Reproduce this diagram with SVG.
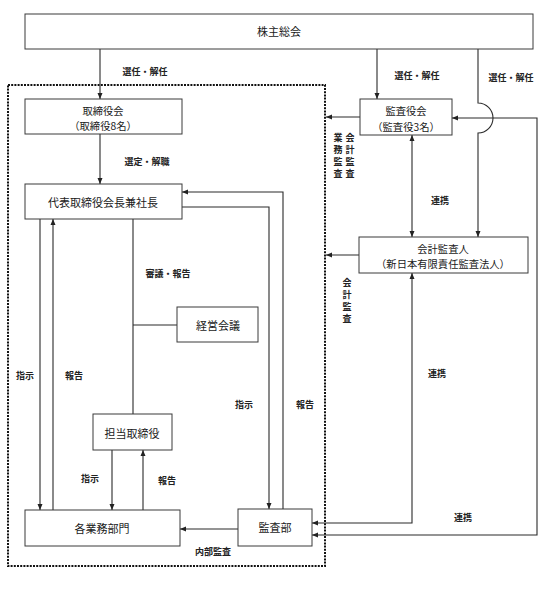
<svg xmlns="http://www.w3.org/2000/svg" width="554" height="589" viewBox="0 0 554 589">
<style>
.box{fill:#fff;stroke:#3a3a3a;stroke-width:1}
.nt{font-family:"Noto Sans CJK JP","Noto Sans CJK SC",sans-serif;font-size:11px;fill:#1a1a1a;text-anchor:middle;dominant-baseline:central}
.n2{font-size:10.3px}
.lb{font-family:"Noto Sans CJK JP","Noto Sans CJK SC",sans-serif;font-size:9px;font-weight:bold;fill:#222;text-anchor:middle;dominant-baseline:central}
.ln{fill:none;stroke:#2a2a2a;stroke-width:1.1}
.dot{fill:none;stroke:#111;stroke-width:2;stroke-dasharray:2 1.2}
</style>
<defs>
<marker id="ah" viewBox="0 0 6 6" refX="6" refY="3" markerWidth="6" markerHeight="6" markerUnits="userSpaceOnUse" orient="auto-start-reverse">
<path d="M0,0.5 L6,3 L0,5.5 z" fill="#222"/>
</marker>
</defs>
<rect width="554" height="589" fill="#fff"/>
<rect class="dot" x="8" y="85" width="317" height="481"/>
<g id="connectors">
<line class="ln" x1="100" y1="49" x2="100" y2="99" marker-end="url(#ah)"/>
<line class="ln" x1="377" y1="49" x2="377" y2="99" marker-end="url(#ah)"/>
<path class="ln" d="M478,49 V103 A15,15 0 0 1 478,133 V237" marker-end="url(#ah)"/>
<line class="ln" x1="100" y1="134" x2="100" y2="184" marker-end="url(#ah)"/>
<line class="ln" x1="40" y1="219" x2="40" y2="510" marker-end="url(#ah)"/>
<line class="ln" x1="53" y1="510" x2="53" y2="219" marker-end="url(#ah)"/>
<line class="ln" x1="133" y1="219" x2="133" y2="414"/>
<line class="ln" x1="133" y1="325" x2="177" y2="325"/>
<line class="ln" x1="112" y1="450" x2="112" y2="510" marker-end="url(#ah)"/>
<line class="ln" x1="143" y1="510" x2="143" y2="450" marker-end="url(#ah)"/>
<path class="ln" d="M182,207 H269 V509" marker-end="url(#ah)"/>
<path class="ln" d="M283,509 V192 H182" marker-end="url(#ah)"/>
<line class="ln" x1="238" y1="529" x2="180" y2="529" marker-end="url(#ah)"/>
<line class="ln" x1="360" y1="117" x2="326" y2="117" marker-end="url(#ah)"/>
<line class="ln" x1="359" y1="255" x2="326" y2="255" marker-end="url(#ah)"/>
<line class="ln" x1="412" y1="135" x2="412" y2="237" marker-start="url(#ah)" marker-end="url(#ah)"/>
<path class="ln" d="M412,273 V523 H312" marker-start="url(#ah)" marker-end="url(#ah)"/>
<path class="ln" d="M452,118 H537 V535 H312" marker-start="url(#ah)" marker-end="url(#ah)"/>
</g>
<g id="labels">
<text class="lb" x="145" y="71">選任・解任</text>
<text class="lb" x="417" y="75">選任・解任</text>
<text class="lb" x="511" y="77">選任・解任</text>
<text class="lb" x="147" y="161">選定・解職</text>
<text class="lb" x="168" y="273">審議・報告</text>
<text class="lb" x="25" y="375">指示</text>
<text class="lb" x="74" y="375">報告</text>
<text class="lb" x="244" y="404">指示</text>
<text class="lb" x="305" y="404">報告</text>
<text class="lb" x="90" y="478">指示</text>
<text class="lb" x="167" y="480">報告</text>
<text class="lb" x="213" y="551">内部監査</text>
<text class="lb" x="440" y="200">連携</text>
<text class="lb" x="437" y="373">連携</text>
<text class="lb" x="463" y="517">連携</text>
<text class="lb"><tspan x="338" y="137">業</tspan><tspan x="338" y="149">務</tspan><tspan x="338" y="161">監</tspan><tspan x="338" y="173">査</tspan></text>
<text class="lb"><tspan x="350" y="137">会</tspan><tspan x="350" y="149">計</tspan><tspan x="350" y="161">監</tspan><tspan x="350" y="173">査</tspan></text>
<text class="lb"><tspan x="347" y="282">会</tspan><tspan x="347" y="294">計</tspan><tspan x="347" y="306">監</tspan><tspan x="347" y="318">査</tspan></text>
</g>
<g id="n-kabunushi"><rect class="box" x="25" y="14" width="508" height="35"/><text class="nt" x="279" y="31">株主総会</text></g>
<g id="n-torishimariyakukai"><rect class="box" x="25" y="99" width="157" height="35"/><text class="nt n2" x="103" y="110">取締役会</text><text class="nt n2" x="103" y="125.5">（取締役8名）</text></g>
<g id="n-daihyo"><rect class="box" x="25" y="184" width="157" height="35"/><text class="nt" x="103" y="202">代表取締役会長兼社長</text></g>
<g id="n-keiei"><rect class="box" x="177" y="307" width="81" height="35"/><text class="nt" x="218" y="325">経営会議</text></g>
<g id="n-tanto"><rect class="box" x="93" y="414" width="79" height="36"/><text class="nt" x="132" y="433">担当取締役</text></g>
<g id="n-kakugyomu"><rect class="box" x="25" y="510" width="155" height="36"/><text class="nt" x="102" y="528">各業務部門</text></g>
<g id="n-kansabu"><rect class="box" x="238" y="509" width="74" height="37"/><text class="nt" x="275" y="527">監査部</text></g>
<g id="n-kansayakukai"><rect class="box" x="360" y="99" width="92" height="36"/><text class="nt n2" x="406" y="110.5">監査役会</text><text class="nt n2" x="406" y="126">（監査役3名）</text></g>
<g id="n-kaikei"><rect class="box" x="359" y="237" width="169" height="36"/><text class="nt n2" x="443" y="248">会計監査人</text><text class="nt n2" x="443" y="263.5">（新日本有限責任監査法人）</text></g>
</svg>
